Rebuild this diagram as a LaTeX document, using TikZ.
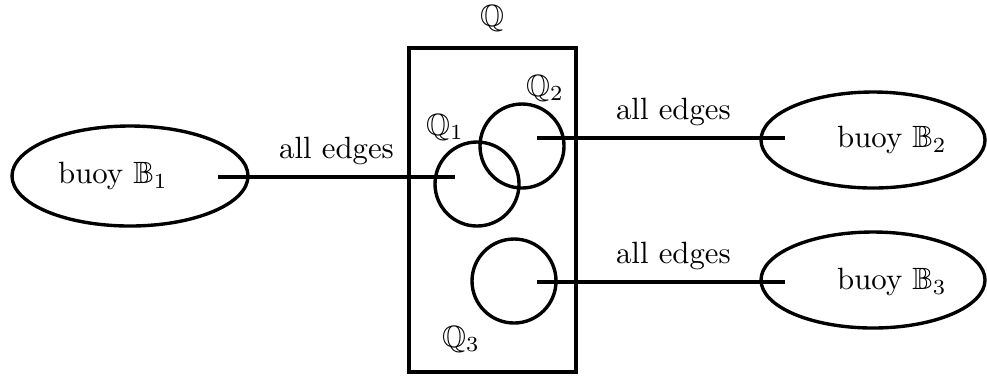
\documentclass[tikz,border=0pt]{standalone}
\usepackage{amsmath,amssymb}
\usepackage{tikz}
\usetikzlibrary{shapes.geometric, positioning}
\tikzstyle{buoy} = [ellipse, draw=black, line width=1.1pt,
inner sep=0pt]
\tikzstyle{pool} = [circle, draw=black, line width=1.1pt,
minimum size=27.3pt, inner sep=0pt]
\tikzstyle{edge} = [line width=1.2pt]

\begin{document}
\begin{tikzpicture}[x=0.325pt, y=-0.325pt]
            \useasboundingbox (0,0) rectangle (987,377);
            % buoys
            \node (b1) [buoy, minimum width=76.7pt, minimum height=32.5pt] at (130,176) {};
            \node (b2) [buoy, minimum width=72.8pt, minimum height=31.2pt] at (873,140) {};
            \node (b3) [buoy, minimum width=72.8pt, minimum height=31.2pt] at (873,280) {};
            \node (b1text) at (113,176) {buoy $\mathbb{B}_1$};
            \node (b2text) at (892,140) {buoy $\mathbb{B}_2$};
            \node (b3text) at (892,282) {buoy $\mathbb{B}_3$};

            % the box Q with its parts
            \node (box) [draw=black, line width=1.1pt, minimum width=54.3pt, minimum height=105.3pt, inner sep=0pt] at (492.5,210) {};
            \node (qlabel) [inner sep=1pt] at (492,18) {$\mathbb{Q}$};
            \node (q1) [pool] at (477,184) {};
            \node (q2) [pool] at (522,146) {};
            \node (q3) [pool] at (514,281) {};
            \node (q1label) at (445,127) {$\mathbb{Q}_1$};
            \node (q2label) at (545,88) {$\mathbb{Q}_2$};
            \node (q3label) at (461,339) {$\mathbb{Q}_3$};

            % line ends
            \coordinate (b1port) at (218,177);
            \coordinate (q1port) at (455,177);
            \coordinate (q2port) at (537,138);
            \coordinate (b2port) at (785,138);
            \coordinate (q3port) at (537,282);
            \coordinate (b3port) at (785,282);

            \draw [edge] (b1port) -- node[above, pos=0.5] {all edges} (q1port);
            \draw [edge] (q2port) -- node[above, pos=0.55] {all edges} (b2port);
            \draw [edge] (q3port) -- node[above, pos=0.55] {all edges} (b3port);
        \end{tikzpicture}
\end{document}
